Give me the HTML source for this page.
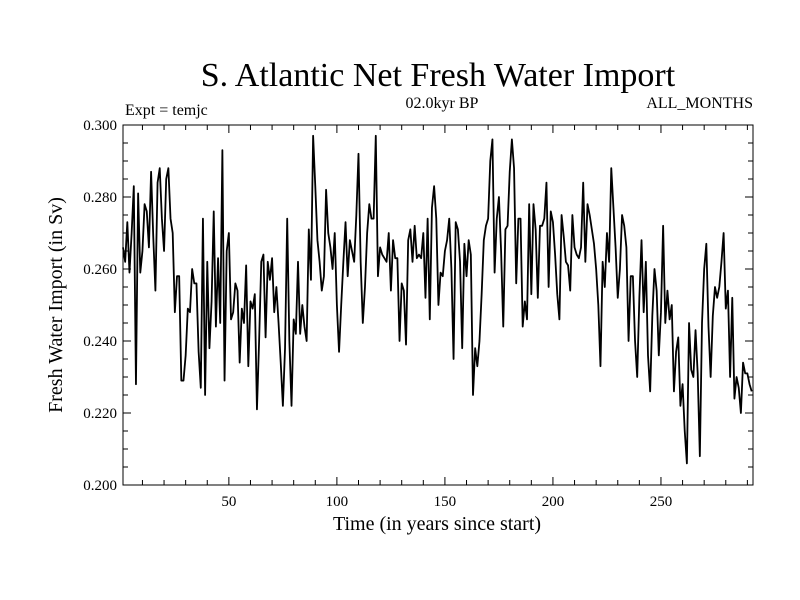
<!DOCTYPE html>
<html><head><meta charset="utf-8"><style>
body{margin:0;background:#fff;}
svg{display:block;font-family:"Liberation Serif",serif;}
</style></head><body>
<svg id="chart" width="800" height="600">
<text x="438" y="86" font-size="34" text-anchor="middle">S. Atlantic Net Fresh Water Import</text>
<text x="125" y="115" font-size="16">Expt = temjc</text>
<text x="442" y="108" font-size="16" text-anchor="middle">02.0kyr BP</text>
<text x="753" y="108" font-size="16" text-anchor="end">ALL_MONTHS</text>
<text x="437" y="530" font-size="20" text-anchor="middle">Time (in years since start)</text>
<text x="0" y="0" font-size="20" text-anchor="middle" transform="translate(62,305) rotate(-90)">Fresh Water Import (in Sv)</text>
<g id="axes"></g>
<g id="series"></g>
<rect x="123" y="125" width="630" height="360" fill="none" stroke="#000" stroke-width="1"/>
</svg>
<script>
const yTickValues = [0.2, 0.22, 0.24, 0.26, 0.28, 0.3];
const yTickLabels = ["0.200", "0.220", "0.240", "0.260", "0.280", "0.300"];
const xTickValues = [50, 100, 150, 200, 250];
const xTickLabels = ["50", "100", "150", "200", "250"];
const startYear = 1;
const importValues = [
.266,.262,.273,.259,.270,.283,.228,.281,.259,.265,
.278,.276,.266,.287,.269,.254,.284,.288,.274,.265,
.285,.288,.274,.270,.248,.258,.258,.229,.229,.236,
.249,.248,.260,.256,.256,.237,.227,.274,.225,.262,
.238,.251,.276,.244,.263,.245,.293,.229,.265,.270,
.246,.248,.256,.254,.234,.249,.245,.261,.233,.251,
.249,.253,.221,.240,.262,.264,.241,.262,.257,.263,
.248,.255,.245,.234,.222,.238,.274,.240,.222,.246,
.242,.262,.242,.250,.244,.240,.271,.257,.297,.283,
.268,.262,.254,.258,.282,.270,.266,.260,.270,.250,
.237,.250,.262,.273,.258,.268,.265,.262,.275,.292,
.262,.245,.255,.270,.278,.274,.274,.297,.258,.266,
.264,.263,.262,.270,.254,.268,.263,.263,.240,.256,
.254,.239,.268,.271,.262,.272,.263,.264,.263,.270,
.252,.274,.246,.277,.283,.274,.250,.259,.258,.265,
.268,.274,.260,.235,.273,.271,.262,.238,.267,.258,
.268,.264,.225,.238,.233,.240,.253,.268,.272,.274,
.290,.296,.259,.274,.280,.265,.244,.271,.272,.287,
.296,.288,.256,.274,.274,.244,.251,.246,.278,.253,
.278,.271,.252,.272,.272,.274,.284,.255,.276,.273,
.264,.253,.246,.275,.269,.262,.261,.254,.275,.266,
.264,.263,.266,.284,.262,.278,.275,.271,.267,.260,
.250,.233,.262,.255,.270,.262,.288,.277,.266,.252,
.260,.275,.272,.266,.240,.258,.258,.240,.230,.252,
.268,.248,.262,.236,.226,.247,.260,.254,.236,.248,
.272,.245,.254,.246,.250,.226,.237,.241,.222,.228,
.215,.206,.245,.232,.230,.243,.231,.208,.245,.260,
.267,.244,.230,.247,.255,.252,.255,.262,.270,.249,
.254,.230,.252,.224,.230,.227,.220,.234,.231,.231,
.228,.226
];
const X0=123, X1=753, Y0=485, Y1=125;
const xMin=1, xMax=292.6, yMin=0.2, yMax=0.3;
function xScale(v){return X0+(v-xMin)/(xMax-xMin)*(X1-X0);}
function yScale(v){return Y0-(v-yMin)/(yMax-yMin)*(Y0-Y1);}
const NS="http://www.w3.org/2000/svg";
const axes=document.getElementById('axes');
function line(x1,y1,x2,y2,name){
  const l=document.createElementNS(NS,'line');
  l.setAttribute('x1',x1);l.setAttribute('y1',y1);l.setAttribute('x2',x2);l.setAttribute('y2',y2);
  l.setAttribute('stroke','#000');l.setAttribute('stroke-width','1');
  
  
  axes.appendChild(l);
}
for(let k=0;k<=20;k++){
  const v=yMin+k*0.005, y=yScale(v), major=(k%4===0);
  const len=major?8:5;
  line(X0,y,X0+len,y,'y-tick');
  line(X1,y,X1-len,y,'y-tick-right');
}
yTickValues.forEach((v,i)=>{
  const t=document.createElementNS(NS,'text');
  t.setAttribute('x',X0-6);t.setAttribute('y',yScale(v)+5);
  t.setAttribute('font-size','15');t.setAttribute('text-anchor','end');
  t.textContent=yTickLabels[i];
  
  
  axes.appendChild(t);
});
for(let v=10;v<=290;v+=10){
  const x=xScale(v), major=(v%50===0), len=major?8:5;
  line(x,Y0,x,Y0-len,'x-tick');
  line(x,Y1,x,Y1+len,'x-tick-top');
}
xTickValues.forEach((v,i)=>{
  const t=document.createElementNS(NS,'text');
  t.setAttribute('x',xScale(v));t.setAttribute('y',Y0+21);
  t.setAttribute('font-size','15');t.setAttribute('text-anchor','middle');
  t.textContent=xTickLabels[i];
  
  
  axes.appendChild(t);
});
const pts=importValues.map((v,i)=>xScale(startYear+i).toFixed(2)+','+yScale(v).toFixed(2)).join(' ');
const pl=document.createElementNS(NS,'polyline');
pl.setAttribute('points',pts);
pl.setAttribute('fill','none');pl.setAttribute('stroke','#000');pl.setAttribute('stroke-width','1.8');
pl.setAttribute('stroke-linejoin','round');


document.getElementById('series').appendChild(pl);
</script>
</body></html>
